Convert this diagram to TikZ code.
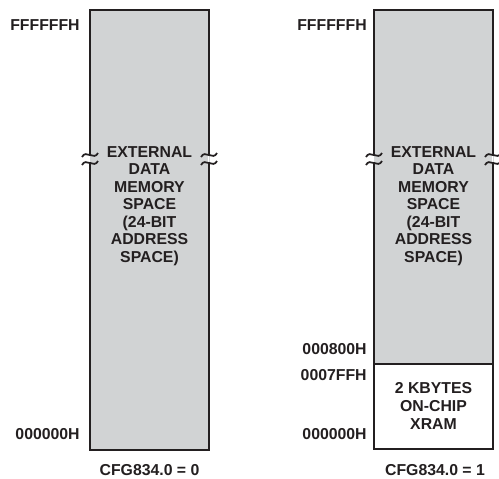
\documentclass[tikz,border=0pt]{standalone}
\usepackage{fontspec}
\setmainfont{Liberation Sans}
\definecolor{MapGray}{HTML}{D1D3D4}
\definecolor{MapInk}{HTML}{231F20}
\tikzset{
  addr/.style={anchor=east,inner sep=0pt,text=MapInk,font=\fontsize{9}{10}\selectfont\bfseries},
  blocktext/.style={align=center,inner sep=0pt,text=MapInk,font=\fontsize{9}{10}\selectfont\bfseries},
  cfgtext/.style={inner sep=0pt,text=MapInk,font=\fontsize{9}{10}\selectfont\bfseries},
  memedge/.style={draw=MapInk,line width=1.1pt},
  breakwave/.style={draw=MapInk,line width=1pt},
}

\begin{document}
\begin{tikzpicture}[x=0.02cm,y=-0.02cm]
\path[use as bounding box] (0,0) rectangle (499,478);
% left map, CFG834.0 = 0
\fill[MapGray] (90,10) rectangle (209,450);
\draw[memedge] (90,10) rectangle (209,450);
\node[addr] (topL) at (80,25) {FFFFFFH};
\node[addr] (botL) at (80,434) {000000H};
\node[blocktext] (extL) at (149.5,206) {EXTERNAL\\DATA\\MEMORY\\SPACE\\(24-BIT\\ADDRESS\\SPACE)};
\node[cfgtext] (cfgL) at (149.5,470) {CFG834.0 = 0};
% right map, CFG834.0 = 1
\fill[MapGray] (374,10) rectangle (493,364);
\draw[memedge] (374,10) rectangle (493,449);
\draw[memedge] (374,364) -- (493,364);
\node[addr] (topR) at (367,25) {FFFFFFH};
\node[addr] (midR) at (367,349) {000800H};
\node[addr] (ramR) at (367,375) {0007FFH};
\node[addr] (botR) at (367,434) {000000H};
\node[blocktext] (extR) at (433.5,206) {EXTERNAL\\DATA\\MEMORY\\SPACE\\(24-BIT\\ADDRESS\\SPACE)};
\node[blocktext] (xram) at (433.5,406) {2 KBYTES\\ON-CHIP\\XRAM};
\node[cfgtext] (cfgR) at (435,470) {CFG834.0 = 1};
% break marks on the edges
\foreach \ex in {90,209,374,493} {
  \fill[white] (\ex-1.2,156) rectangle (\ex,162);
  \fill[MapGray] (\ex,156) rectangle (\ex+1.2,162);
  \draw[breakwave] (\ex-8,157) .. controls (\ex-4,149) and (\ex+4,161) .. (\ex+8,153);
  \draw[breakwave] (\ex-8,165) .. controls (\ex-4,157) and (\ex+4,169) .. (\ex+8,161);
}
\end{tikzpicture}
\end{document}
